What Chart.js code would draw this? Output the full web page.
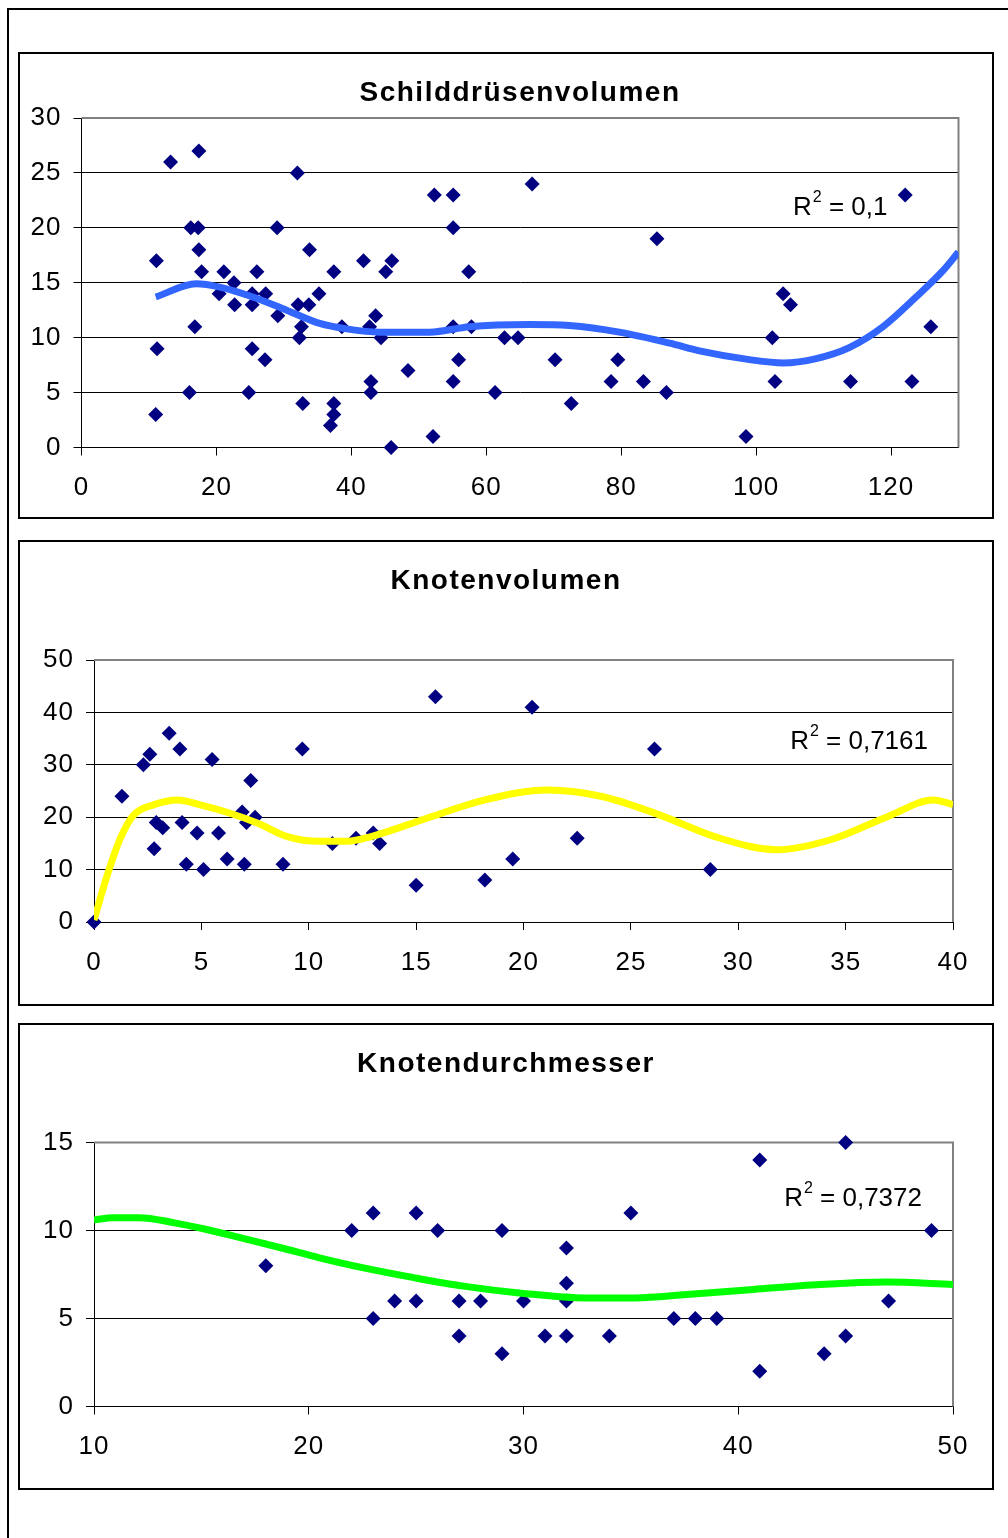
<!DOCTYPE html>
<html><head><meta charset="utf-8">
<script src="https://cdn.jsdelivr.net/npm/chart.js@4.4.1/dist/chart.umd.min.js"></script>
<style>
html,body{margin:0;padding:0;background:#fff;width:1008px;height:1538px;overflow:hidden;}
#frame{position:absolute;left:7px;top:8px;width:1100px;height:1600px;border-top:2px solid #000;border-left:2px solid #000;}
.panel{position:absolute;left:18px;width:972px;border:2px solid #000;}
.panel canvas{display:block;}
</style></head><body>
<div id="frame"></div>
<div class="panel" style="top:52px;height:463px"><canvas id="c1" width="972" height="463"></canvas></div>
<div class="panel" style="top:540px;height:462px"><canvas id="c2" width="972" height="462"></canvas></div>
<div class="panel" style="top:1023px;height:463px"><canvas id="c3" width="972" height="463"></canvas></div>
<script>
// ---- Schilddrüsenvolumen ----
const svX = [11.0,11.2,11.1,13.2,16.0,16.2,16.8,17.3,17.4,17.4,17.8,20.4,21.1,22.6,22.7,24.8,25.3,25.3,25.3,26.0,27.2,27.3,29.0,29.1,32.0,32.1,32.3,32.6,32.8,33.7,33.8,35.2,36.9,37.4,37.4,37.4,38.6,41.8,42.7,42.9,42.9,43.6,44.4,45.1,45.9,46.0,48.4,52.1,52.3,55.1,55.1,55.1,55.1,55.9,57.4,57.8,61.3,62.7,64.7,66.8,70.2,72.6,78.5,79.5,83.3,85.3,86.7,98.5,102.4,102.8,104.0,105.1,114.0,122.1,123.1,125.9];
const svY = [3,9,17,26,5,20,11,20,27,18,16,14,16,15,13,5,9,14,13,16,8,14,20,12,25,13,10,11,4,13,18,14,2,3,4,16,11,17,11,6,5,12,10,16,0,17,7,1,23,23,20,11,6,8,16,11,5,10,10,24,8,4,6,8,6,19,5,1,10,6,14,13,6,23,6,11];
const svTrendX = [11,17,20.5,25.4,30.4,35.3,39.3,44.2,51.6,57.5,66.4,72.3,79.7,87.2,91.6,99,104,108.9,113.8,118.8,123.7,127.7,130];
const svTrendY = [13.7,14.9,14.6,13.7,12.5,11.3,10.8,10.5,10.5,11.0,11.2,11.1,10.5,9.5,8.8,8.0,7.7,8.1,9.1,11.0,13.7,16.1,17.8];
const svR2 = "0,1";

// ---- Knotenvolumen ----
const kvX = [0,1.3,2.3,2.6,3.5,4.0,5.5,7.3,9.7,2.9,3.2,4.1,4.8,5.8,2.8,4.3,5.1,6.2,7.0,8.8,6.9,7.1,7.5,11.1,12.2,13.0,13.3,15.9,20.4,26.1,15.0,18.2,19.5,22.5,28.7];
const kvY = [0,24,30,32,36,33,31,27,33,19,18,19,17,17,14,11,10,12,11,11,21,19,20,15,16,17,15,43,41,33,7,8,12,16,10];
const kvTrendX = [0,0.6,1.2,1.8,2.8,3.9,4.9,6.3,7.6,9.0,10.5,11.8,12.9,15.5,18.2,21.1,23.6,26.3,28.9,31.8,34.3,37.0,39.1,40];
const kvTrendY = [0.4,8.7,15.7,20.2,22.4,23.3,22.4,20.8,18.9,16.3,15.4,15.4,16.3,19.8,23.3,25.2,24.0,20.5,16.3,13.8,15.7,20.2,23.3,22.4];
const kvR2 = "0,7161";

// ---- Knotendurchmesser ----
const kdX = [18,22,23,23,24,25,25,26,27,27,28,29,29,30,31,32,32,32,32,34,35,37,38,39,41,41,44,45,45,47,49];
const kdY = [8,10,11,5,6,11,6,10,6,4,6,10,3,6,4,9,7,6,4,4,11,5,5,5,14,2,3,4,15,6,10];
const kdTrendX = [10,10.9,12.1,13.7,15.2,16.8,18.7,20.5,22.5,24.9,27.2,29.9,32.9,35.2,37.6,40.7,43.8,46.9,50];
const kdTrendY = [10.6,10.73,10.73,10.45,10.07,9.6,9.02,8.45,7.89,7.32,6.84,6.44,6.17,6.17,6.36,6.65,6.93,7.07,6.93];
const kdR2 = "0,7372";

const FONT = '"Liberation Sans", Arial, sans-serif';

const frameAndR2 = {
  id: 'frameAndR2',
  beforeDraw(chart) {
    chart.ctx.letterSpacing = '1px';
    const tb = chart.titleBlock;
    if (tb && !tb._wrapped) {
      const orig = tb.draw;
      tb.draw = function () {
        const c = this.ctx;
        c.save(); c.letterSpacing = '1.5px';
        orig.apply(this, arguments);
        c.restore();
      };
      tb._wrapped = true;
    }
  },
  beforeDatasetsDraw(chart) {
    const {ctx, chartArea: a} = chart;
    ctx.save();
    ctx.strokeStyle = '#808080';
    ctx.lineWidth = 2;
    ctx.beginPath();
    ctx.moveTo(a.left, a.top); ctx.lineTo(a.right, a.top); ctx.lineTo(a.right, a.bottom);
    ctx.stroke();
    ctx.restore();
  },
  afterDatasetsDraw(chart, args, o) {
    if (!o.text) return;
    const {ctx, chartArea: a} = chart;
    ctx.save();
    ctx.letterSpacing = '0px';
    ctx.fillStyle = '#000';
    ctx.textBaseline = 'alphabetic';
    ctx.textAlign = 'left';
    const big = '26px ' + FONT, small = '16px ' + FONT;
    ctx.font = big;
    const wR = ctx.measureText('R').width;
    const rest = ' = ' + o.text;
    const wRest = ctx.measureText(rest).width;
    ctx.font = small;
    const wS = ctx.measureText('2').width;
    const total = wR + wS + 1 + wRest;
    const x0 = a.right - o.right - total;
    const base = a.top + o.top + 9.5;
    ctx.font = big; ctx.fillText('R', x0, base);
    ctx.font = small; ctx.fillText('2', x0 + wR + 1, base - 13);
    ctx.font = big; ctx.fillText(rest, x0 + wR + wS + 1, base);
    ctx.restore();
  }
};

function pts(xs, ys) { return xs.map((x, i) => ({x: x, y: ys[i]})); }

function build(id, c) {
  return new Chart(document.getElementById(id), {
    type: 'scatter',
    data: { datasets: [
      { data: pts(c.tx, c.ty), showLine: true, borderColor: c.color, borderWidth: 7,
        pointRadius: 0, cubicInterpolationMode: 'monotone', order: 0, borderCapStyle: 'butt' },
      { data: pts(c.x, c.y), pointStyle: 'rectRot', pointRadius: 7.5, pointHoverRadius: 7.5,
        backgroundColor: '#000080', borderColor: '#000080', borderWidth: 0, order: 1, clip: false }
    ]},
    options: {
      responsive: false, animation: false, devicePixelRatio: 1,
      layout: { padding: 0 },
      plugins: {
        legend: { display: false }, tooltip: { enabled: false },
        title: { display: true, text: c.title, color: '#000', fullSize: c.fullSize,
          font: { family: FONT, size: 28, weight: 'bold', lineHeight: 1.2 },
          padding: { top: c.titleTop, bottom: c.titleBottom } },
        frameAndR2: { text: c.r2, right: c.r2Right, top: c.r2Top }
      },
      scales: {
        x: { type: 'linear', min: c.xmin, max: c.xmax,
          ticks: { stepSize: c.xstep, includeBounds: false, color: '#000', padding: 17,
            font: { family: FONT, size: 26 }, maxRotation: 0 },
          grid: { drawOnChartArea: false, drawTicks: true, tickLength: 8, color: '#000' },
          border: { color: '#000', width: 1 },
          afterFit(s) { s.height = c.bottomH; } },
        y: { type: 'linear', min: c.ymin, max: c.ymax,
          ticks: { stepSize: c.ystep, color: '#000', padding: 12, font: { family: FONT, size: 26 } },
          grid: { color: '#000', lineWidth: 1, tickLength: 8, drawTicks: true },
          border: { color: '#000', width: 1 },
          afterFit(s) { s.width = c.leftW; } },
        yRight: { type: 'linear', position: 'right', min: 0, max: 1, display: true,
          ticks: { display: false }, grid: { display: false }, border: { display: false },
          afterFit(s) { s.width = c.rightW; } }
      }
    },
    plugins: [frameAndR2]
  });
}

build('c1', { x: svX, y: svY, tx: svTrendX, ty: svTrendY, color: '#3366FF', r2: svR2,
  title: 'Schilddrüsenvolumen', fullSize: false, rightW: 33.5, leftW: 61.5, bottomH: 69.5,
  titleTop: 22.4, titleBottom: 8.0, xmin: 0, xmax: 130, xstep: 20, ymin: 0, ymax: 30, ystep: 5,
  r2Right: 71, r2Top: 87 });

build('c2', { x: kvX, y: kvY, tx: kvTrendX, ty: kvTrendY, color: '#FFFF00', r2: kvR2,
  title: 'Knotenvolumen', fullSize: true, rightW: 39, leftW: 74, bottomH: 82,
  titleTop: 22.4, titleBottom: 62.0, xmin: 0, xmax: 40, xstep: 5, ymin: 0, ymax: 50, ystep: 10,
  r2Right: 25, r2Top: 79 });

build('c3', { x: kdX, y: kdY, tx: kdTrendX, ty: kdTrendY, color: '#00FF00', r2: kdR2,
  title: 'Knotendurchmesser', fullSize: true, rightW: 39, leftW: 74, bottomH: 81.5,
  titleTop: 22.4, titleBottom: 61.5, xmin: 10, xmax: 50, xstep: 10, ymin: 0, ymax: 15, ystep: 5,
  r2Right: 31, r2Top: 54 });
</script>
</body></html>
